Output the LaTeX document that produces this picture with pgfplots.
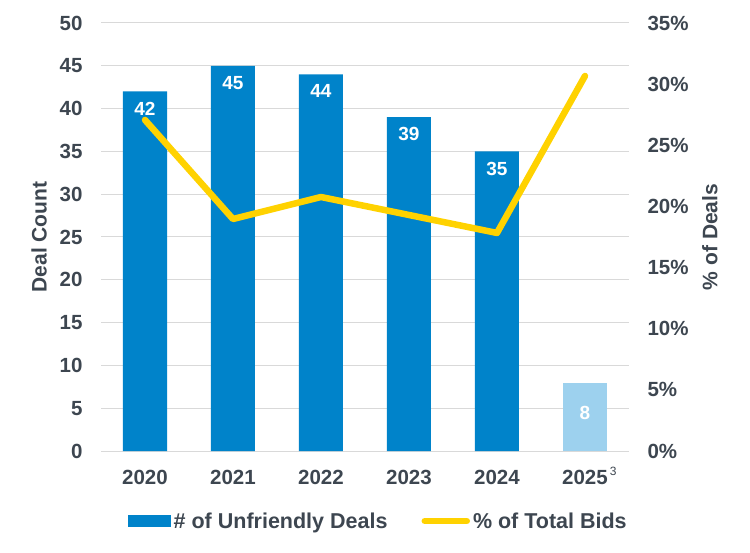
\documentclass[border=0pt]{standalone}
\usepackage{pgfplots}
\pgfplotsset{compat=1.18}
\usepackage{fontspec}
\setmainfont{Liberation Sans}
\definecolor{barblue}{HTML}{0083CA}
\definecolor{barlight}{HTML}{9DD1EE}
\definecolor{lineyel}{HTML}{FFD200}
\definecolor{txt}{HTML}{3D4650}
\definecolor{gridc}{HTML}{D9D9D9}
\newcommand{\tickfont}{\fontsize{20.5bp}{24bp}\selectfont\bfseries}
\newcommand{\labfont}{\fontsize{21bp}{24bp}\selectfont\bfseries}
\begin{document}
\begin{tikzpicture}
\useasboundingbox (0,0) rectangle (750bp,553bp);
\begin{axis}[
  at={(101bp,102bp)}, anchor=south west,
  scale only axis, width=528bp, height=428bp,
  xmin=-0.5, xmax=5.5, ymin=0, ymax=50,
  xtick={0,...,5},
  xticklabels={2020,2021,2022,2023,2024,2025\rlap{\smash{\fontsize{12bp}{12bp}\selectfont\mdseries\raisebox{9bp}{\,3}}}},
  ytick={0,5,...,50},
  axis x line*=bottom, axis y line*=left,
  x axis line style={gridc, line width=1bp, -},
  y axis line style={draw=none},
  major tick length=0pt,
  ymajorgrids, grid style={gridc, line width=1bp},
  /pgf/number format/assume math mode=true,
  ticklabel style={text=txt, font=\tickfont},
  yticklabel style={xshift=-15bp},
  xticklabel style={yshift=-16bp},
  ylabel={Deal Count},
  ylabel style={at={(axis description cs:-0.1174,0.5)}, anchor=center, text=txt, font=\labfont},
  ybar, bar width=44bp,
  nodes near coords,
  nodes near coords style={anchor=north, yshift=-7bp, text=white, font=\fontsize{19bp}{22bp}\selectfont\bfseries},
  clip=false,
]
\addplot[fill=barblue, draw=none, bar shift=0pt] coordinates {(0,42) (1,45) (2,44) (3,39) (4,35)};
\addplot[fill=barlight, draw=none, bar shift=0pt, nodes near coords style={yshift=-13bp}] coordinates {(5,8)};
\end{axis}
\begin{axis}[
  at={(101bp,102bp)}, anchor=south west,
  scale only axis, width=528bp, height=428bp,
  xmin=-0.5, xmax=5.5, ymin=0, ymax=35,
  ytick={0,5,...,35},
  yticklabel={\pgfmathprintnumber{\tick}\%},
  axis y line*=right, hide x axis,
  y axis line style={draw=none},
  major tick length=0pt,
  /pgf/number format/assume math mode=true,
  ticklabel style={text=txt, font=\tickfont},
  yticklabel style={xshift=15bp},
  ylabel={\% of Deals},
  ylabel style={at={(axis description cs:1.153,0.5)}, anchor=center, text=txt, font=\labfont},
  legend columns=2,
  legend style={draw=none, fill=none, at={(0.5246,-0.1636)}, anchor=center,
    font=\fontsize{21.5bp}{24bp}\selectfont\bfseries, text=txt,
    nodes={inner sep=1bp},
    /tikz/every odd column/.append style={column sep=2bp},
    /tikz/every even column/.append style={column sep=33bp}},
  clip=false,
]
\addlegendimage{legend image code/.code={\fill[barblue] (0bp,-5.4bp) rectangle (42bp,5.4bp);}}
\addlegendentry{\# of Unfriendly Deals}
\addplot[lineyel, line width=6.5bp, line join=round, line cap=round, mark=none,
  legend image code/.code={\draw[lineyel, line width=6.5bp, line cap=round] (3bp,0bp) -- (45bp,0bp);}]
  coordinates {(0,27.07) (1,18.97) (2,20.77) (3,19.3) (4,17.83) (5,30.67)};
\addlegendentry{\% of Total Bids}
\end{axis}
\end{tikzpicture}
\end{document}
